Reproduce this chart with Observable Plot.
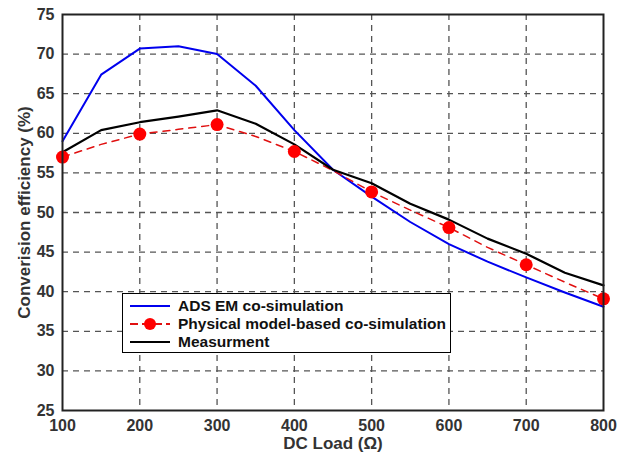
<!DOCTYPE html>
<html><head><meta charset="utf-8">
<script src="https://cdn.jsdelivr.net/npm/d3@7"></script>
<script src="https://cdn.jsdelivr.net/npm/@observablehq/plot@0.6"></script>
<style>
body{margin:0;background:#fff;font-family:"Liberation Sans",Arial,sans-serif;}
#wrap{position:relative;width:631px;height:459px;}
#legend{position:absolute;left:122px;top:293px;width:329px;height:60px;border:1.5px solid #000;background:#fff;box-sizing:border-box;font-weight:bold;font-size:15.5px;color:#111;}
#legend .row{position:absolute;left:0;height:18px;line-height:18px;}
#legend svg{position:absolute;left:7px;top:0;}
#legend span{position:absolute;left:55px;white-space:nowrap;}
</style></head>
<body><div id="wrap"><div id="chart"></div><div id="legend"></div></div>
<script>
const loadsFine = [100,150,200,250,300,350,400,450,500,550,600,650,700,750,800];
const adsEM = [59.0,67.4,70.7,71.0,70.0,66.0,60.4,55.4,52.0,48.8,46.0,43.8,41.8,39.9,38.1];
const measurement = [57.6,60.4,61.4,62.1,62.9,61.2,58.6,55.4,53.7,51.1,49.1,46.7,44.8,42.4,40.8];
const physicalLine = [57.0,58.6,59.9,60.5,61.1,59.6,57.7,55.3,52.6,50.3,48.1,45.6,43.4,41.2,39.1];
const loadsMarker = [100,200,300,400,500,600,700,800];
const physicalMarker = [57.0,59.9,61.1,57.7,52.6,48.1,43.4,39.1];
const xTicks = [100,200,300,400,500,600,700,800];
const yTicks = [25,30,35,40,45,50,55,60,65,70,75];
const seriesNames = ["ADS EM co-simulation","Physical model-based co-simulation","Measurment"];

const fine = (ys) => loadsFine.map((x,i)=>({x, y: ys[i]}));
const markers = loadsMarker.map((x,i)=>({x, y: physicalMarker[i]}));

const chart = Plot.plot({
  width: 631, height: 459,
  marginLeft: 62, marginRight: 28, marginTop: 14, marginBottom: 49,
  style: {fontFamily: '"Liberation Sans", Arial, sans-serif', fontSize: "16px", fontWeight: "bold", background: "#fff"},
  x: {domain: [100,800], ticks: xTicks},
  y: {domain: [25,75], ticks: yTicks},
  marks: [
    Plot.gridX(xTicks.slice(1,-1), {stroke: "#555", strokeOpacity: 1, strokeWidth: 1.3, strokeDasharray: "6,5"}),
    Plot.gridY(yTicks.slice(1,-1), {stroke: "#555", strokeOpacity: 1, strokeWidth: 1.3, strokeDasharray: "6,5"}),
    Plot.axisX(xTicks, {tickSize: 0, tickPadding: 9, fill: "#333", fontSize: 16, fontWeight: "bold", label: null}),
    Plot.axisY(yTicks, {tickSize: 0, tickPadding: 8, fill: "#333", fontSize: 16, fontWeight: "bold", label: null}),
    Plot.text(["DC Load (\u03A9)"], {frameAnchor: "bottom", dy: 38, fill: "#333", fontSize: 17, fontWeight: "bold"}),
    Plot.text(["Converision efficiency (%)"], {frameAnchor: "left", textAnchor: "middle", dx: -38, rotate: -90, fill: "#333", fontSize: 17, fontWeight: "bold"}),
    Plot.line(fine(adsEM), {x: "x", y: "y", stroke: "#0000ee", strokeWidth: 2}),
    Plot.line(fine(physicalLine), {x: "x", y: "y", stroke: "#e01010", strokeWidth: 1.5, strokeDasharray: "7,6"}),
    Plot.line(fine(measurement), {x: "x", y: "y", stroke: "#000", strokeWidth: 2.2}),
    Plot.dot(markers, {x: "x", y: "y", r: 6.5, fill: "#ff0000", stroke: "none"}),
    Plot.frame({stroke: "#222", strokeWidth: 2})
  ]
});
document.getElementById("chart").appendChild(chart);

const legend = document.getElementById("legend");
const styles = [
  {stroke: "#0000ee", dash: null, dot: false},
  {stroke: "#e01010", dash: "8,4", dot: true},
  {stroke: "#000", dash: null, dot: false}
];
seriesNames.forEach((name,i)=>{
  const row = document.createElement("div");
  row.className = "row";
  row.style.top = (3 + i*18) + "px";
  row.style.width = "100%";
  const s = styles[i];
  row.innerHTML = `<svg width="44" height="18"><line x1="0" x2="40" y1="9" y2="9" stroke="${s.stroke}" stroke-width="2" ${s.dash?`stroke-dasharray="${s.dash}"`:""}/>${s.dot?`<circle cx="20" cy="9" r="6" fill="#ff0000"/>`:""}</svg><span>${name}</span>`;
  legend.appendChild(row);
});
</script>
</body></html>
